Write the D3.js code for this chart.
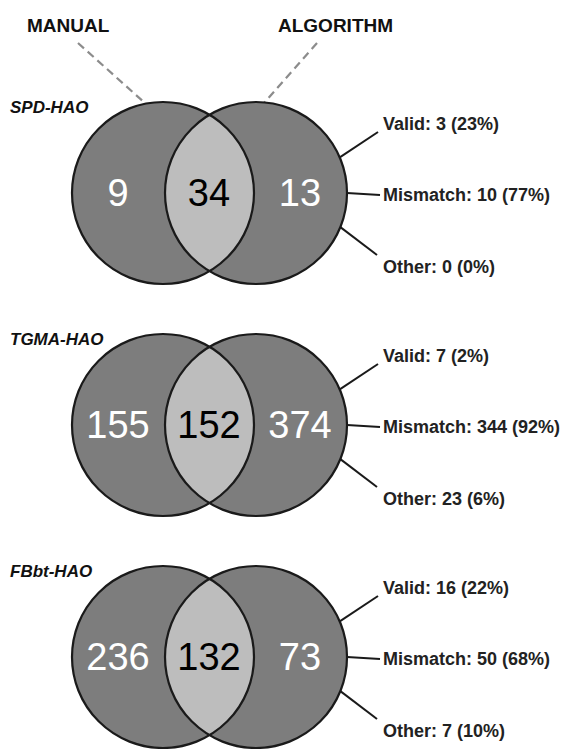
<!DOCTYPE html>
<html>
<head>
<meta charset="utf-8">
<script src="https://cdn.jsdelivr.net/npm/d3@7"></script>
<style>
  body { margin: 0; background: #fff; }
  text { font-family: "Liberation Sans", Arial, sans-serif; }
</style>
</head>
<body>
<svg id="chart" width="564" height="749"></svg>
<script>
// data
var panels = ["SPD-HAO", "TGMA-HAO", "FBbt-HAO"];
var manualOnly = [9, 155, 236];
var overlap = [34, 152, 132];
var algorithmOnly = [13, 374, 73];
var validN = [3, 7, 16],      validPct = [23, 2, 22];
var mismatchN = [10, 344, 50], mismatchPct = [77, 92, 68];
var otherN = [0, 23, 7],      otherPct = [0, 6, 10];
var setLabels = ["MANUAL", "ALGORITHM"];

var svg = d3.select("#chart");

var r = 91;
var y = d3.scaleLinear().domain([0, 2]).range([193, 657]);
var x = d3.scalePoint().domain(["left", "mid", "right"]).range([118, 300]);
var cxL = 163, cxR = 256;

var darkFill = "#7d7d7d", lightFill = "#bdbdbd", ink = "#1a1a1a";

// set labels + dashed pointers to first panel
svg.append("text").attr("x", 27).attr("y", 32)
  .attr("font-size", 19).attr("font-weight", "bold").attr("fill", "#111")
  .text(setLabels[0]);
svg.append("text").attr("x", 278).attr("y", 32)
  .attr("font-size", 19).attr("font-weight", "bold").attr("fill", "#111")
  .text(setLabels[1]);
svg.append("line").attr("x1", 78).attr("y1", 43).attr("x2", 146).attr("y2", 104)
  .attr("stroke", "#8c8c8c").attr("stroke-width", 2.2).attr("stroke-dasharray", "8,5");
svg.append("line").attr("x1", 317).attr("y1", 43).attr("x2", 264).attr("y2", 103)
  .attr("stroke", "#8c8c8c").attr("stroke-width", 2.2).attr("stroke-dasharray", "8,5");

panels.forEach(function(name, i) {
  var cy = y(i);
  var g = svg.append("g");

  var half = (cxR - cxL) / 2, mx = (cxL + cxR) / 2;
  var h = Math.sqrt(r * r - half * half);

  g.append("circle").attr("cx", cxL).attr("cy", cy).attr("r", r).attr("fill", darkFill);
  g.append("circle").attr("cx", cxR).attr("cy", cy).attr("r", r).attr("fill", darkFill);

  // overlap lens
  g.append("path")
    .attr("d", "M" + mx + "," + (cy - h) +
      " A" + r + "," + r + " 0 0 1 " + mx + "," + (cy + h) +
      " A" + r + "," + r + " 0 0 1 " + mx + "," + (cy - h) + "Z")
    .attr("fill", lightFill);

  g.selectAll("circle.outline").data([cxL, cxR]).join("circle")
    .attr("class", "outline")
    .attr("cx", function(d) { return d; }).attr("cy", cy).attr("r", r)
    .attr("fill", "none").attr("stroke", ink).attr("stroke-width", 2.2);

  // region counts
  var counts = [
    {k: "left", v: manualOnly[i], c: "#fff"},
    {k: "mid", v: overlap[i], c: "#000"},
    {k: "right", v: algorithmOnly[i], c: "#fff"}
  ];
  g.selectAll("text.count").data(counts).join("text")
    .attr("class", "count")
    .attr("x", function(d) { return x(d.k); })
    .attr("y", cy + 13)
    .attr("text-anchor", "middle")
    .attr("font-size", 38)
    .attr("fill", function(d) { return d.c; })
    .text(function(d) { return d.v; });

  // panel title
  g.append("text").attr("x", 10).attr("y", cy - 80)
    .attr("font-size", 17).attr("font-weight", "bold").attr("font-style", "italic")
    .attr("fill", "#111").text(name);

  // breakdown of algorithm-only
  var rows = [
    {t: "Valid: " + validN[i] + " (" + validPct[i] + "%)", ang: -23, ex: 378, ey: cy - 61, ty: cy - 63},
    {t: "Mismatch: " + mismatchN[i] + " (" + mismatchPct[i] + "%)", ang: 0, ex: 380, ey: cy + 2, ty: cy + 8},
    {t: "Other: " + otherN[i] + " (" + otherPct[i] + "%)", ang: 22, ex: 377, ey: cy + 62, ty: cy + 80}
  ];
  rows.forEach(function(d) {
    var a = d.ang * Math.PI / 180;
    g.append("line")
      .attr("x1", cxR + r * Math.cos(a)).attr("y1", cy + r * Math.sin(a))
      .attr("x2", d.ex).attr("y2", d.ey)
      .attr("stroke", ink).attr("stroke-width", 2);
    g.append("text").attr("x", 383).attr("y", d.ty)
      .attr("font-size", 18).attr("font-weight", "bold").attr("fill", "#222")
      .text(d.t);
  });
});
</script>
</body>
</html>
